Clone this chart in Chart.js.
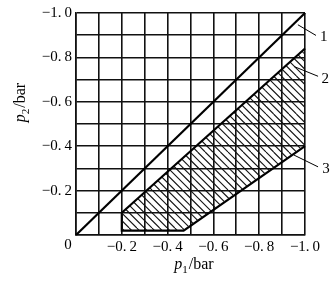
<!DOCTYPE html>
<html>
<head>
<meta charset="utf-8">
<script src="https://cdn.jsdelivr.net/npm/chart.js@4.4.1/dist/chart.umd.min.js"></script>
<style>
  html, body { margin: 0; padding: 0; background: #fff; }
  #wrap { width: 333px; height: 285px; }
</style>
</head>
<body>
<div id="wrap"><canvas id="chart"></canvas></div>
<script>
// curve 1: p2 = p1
const line1X = [0, -1.0];
const line1Y = [0, -1.0];
// curve 2: upper edge of the hatched area
const line2X = [-0.2, -1.0];
const line2Y = [-0.1, -0.84];
// curve 3: lower edge (left side, bottom, slope)
const line3X = [-0.2, -0.2, -0.47, -1.0];
const line3Y = [-0.1, -0.02, -0.02, -0.40];

// callout leaders and their numbers
const calloutLabels = ['1', '2', '3'];
const leaderX = [[-0.969, -1.048], [-0.952, -1.057], [-0.952, -1.057]];
const leaderY = [[-0.947, -0.899], [-0.759, -0.715], [-0.360, -0.307]];
const calloutX = [-1.066, -1.072, -1.075];
const calloutY = [-0.893, -0.703, -0.298];

const tickValues = [0, -0.2, -0.4, -0.6, -0.8, -1.0];

const SERIF = '"Liberation Serif", "DejaVu Serif", serif';

function pts(xs, ys) {
    return xs.map((x, i) => ({ x: x, y: ys[i] }));
}

function fmt(v) {
    const isMajor = tickValues.some(t => Math.abs(t - v) < 1e-6);
    if (!isMajor || Math.abs(v) < 1e-6) return '';
    return '\u2212' + Math.abs(v).toFixed(1).replace('.', '.\u2009');
}

// hatch pattern, "\" lines
function makeHatch() {
    const size = 38, gap = 7.6;
    const c = document.createElement('canvas');
    c.width = size;
    c.height = size;
    const g = c.getContext('2d');
    g.strokeStyle = '#111';
    g.lineWidth = 1.1;
    for (let i = -6; i <= 6; i++) {
        g.beginPath();
        g.moveTo(i * gap, 0);
        g.lineTo(i * gap + size, size);
        g.stroke();
    }
    return g.createPattern(c, 'repeat');
}

const textPlugin = {
    id: 'textPlugin',
    afterDraw(chart) {
        const ctx = chart.ctx;
        const xs = chart.scales.x, ys = chart.scales.y;
        const area = chart.chartArea;
        ctx.save();
        ctx.fillStyle = '#000';

        // callout numbers
        ctx.font = '15px ' + SERIF;
        ctx.textAlign = 'left';
        ctx.textBaseline = 'middle';
        calloutLabels.forEach((t, i) => {
            ctx.fillText(t, xs.getPixelForValue(calloutX[i]), ys.getPixelForValue(calloutY[i]));
        });

        // shared origin label
        ctx.textAlign = 'center';
        ctx.fillText('0', area.left - 8, area.bottom + 10);

        // axis title helper: italic p, subscript, then /bar
        function title(sub) {
            const big = '16px ' + SERIF;
            const ital = 'italic 16px ' + SERIF;
            const small = '11px ' + SERIF;
            ctx.font = ital; const w1 = ctx.measureText('p').width;
            ctx.font = small; const w2 = ctx.measureText(sub).width;
            ctx.font = big; const w3 = ctx.measureText('/bar').width;
            let x = -(w1 + w2 + w3) / 2;
            ctx.textAlign = 'left';
            ctx.textBaseline = 'alphabetic';
            ctx.font = ital; ctx.fillText('p', x, 0); x += w1;
            ctx.font = small; ctx.fillText(sub, x, 4); x += w2;
            ctx.font = big; ctx.fillText('/bar', x + 1, 0);
        }

        ctx.save();
        ctx.translate((area.left + area.right) / 2 + 3, area.bottom + 34);
        title('1');
        ctx.restore();

        ctx.save();
        ctx.translate(25, area.top + 90);
        ctx.rotate(-Math.PI / 2);
        title('2');
        ctx.restore();

        ctx.restore();
    }
};

const hatch = makeHatch();

const curveStyle = {
    showLine: true,
    borderColor: '#000',
    borderWidth: 2.2,
    pointRadius: 0,
    pointHoverRadius: 0,
    tension: 0,
    clip: false
};

const datasets = [
    Object.assign({}, curveStyle, { label: '1', data: pts(line1X, line1Y), fill: false }),
    Object.assign({}, curveStyle, { label: '2', data: pts(line2X, line2Y), fill: '+1', backgroundColor: hatch }),
    Object.assign({}, curveStyle, { label: '3', data: pts(line3X, line3Y), fill: false })
];
leaderX.forEach((lx, i) => {
    datasets.push(Object.assign({}, curveStyle, {
        label: 'leader' + (i + 1),
        data: pts(lx, leaderY[i]),
        borderWidth: 1,
        fill: false
    }));
});

const ctx = document.getElementById('chart').getContext('2d');
const chart = new Chart(ctx, {
    type: 'scatter',
    data: { datasets: datasets },
    options: {
        responsive: true,
        maintainAspectRatio: false,
        animation: false,
        events: [],
        layout: { padding: { top: 7, right: 28, left: 0, bottom: 0 } },
        scales: {
            x: {
                type: 'linear',
                min: -1,
                max: 0,
                reverse: true,
                afterFit: s => { s.height = 50; },
                border: { display: true, color: '#111', width: 1.6 },
                grid: { color: '#111', lineWidth: 1.6, drawTicks: false },
                ticks: {
                    stepSize: 0.1,
                    autoSkip: false,
                    maxRotation: 0,
                    padding: 3,
                    color: '#000',
                    font: { family: SERIF, size: 15 },
                    callback: v => fmt(v)
                }
            },
            y: {
                type: 'linear',
                min: -1,
                max: 0,
                reverse: true,
                afterFit: s => { s.width = 76; },
                border: { display: true, color: '#111', width: 1.6 },
                grid: { color: '#111', lineWidth: 1.6, drawTicks: false },
                ticks: {
                    stepSize: 0.1,
                    autoSkip: false,
                    padding: 4,
                    color: '#000',
                    font: { family: SERIF, size: 15 },
                    callback: v => fmt(v)
                }
            }
        },
        plugins: {
            legend: { display: false },
            tooltip: { enabled: false }
        }
    },
    plugins: [textPlugin]
});
</script>
</body>
</html>
